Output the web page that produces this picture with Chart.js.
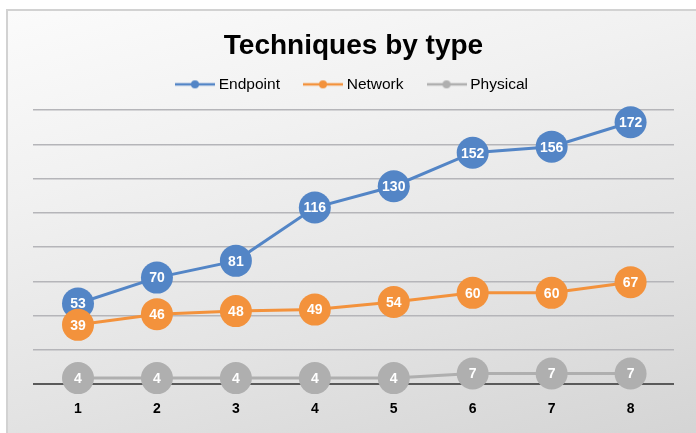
<!DOCTYPE html>
<html>
<head>
<meta charset="utf-8">
<script src="https://cdn.jsdelivr.net/npm/chart.js@4.4.1/dist/chart.umd.min.js"></script>
<style>
  html, body { margin: 0; padding: 0; background: #fff; }
  body { width: 696px; height: 433px; position: relative; overflow: hidden; }
  .card {
    position: absolute; left: 6px; top: 9px; width: 700px; height: 440px;
    border-left: 2px solid #d2d2d2; border-top: 2px solid #d2d2d2;
    background: linear-gradient(165deg, #fbfbfb 0%, #f1f1f1 30%, #e3e3e3 65%, #d3d3d3 100%);
  }
  #chart { position: absolute; left: 0; top: 0; }
</style>
</head>
<body>
<div class="card"></div>
<canvas id="chart" width="696" height="433"></canvas>
<script>
// data
const categories = [1, 2, 3, 4, 5, 6, 7, 8];
const endpoint = [53, 70, 81, 116, 130, 152, 156, 172];
const network = [39, 46, 48, 49, 54, 60, 60, 67];
const physical = [4, 4, 4, 4, 4, 7, 7, 7];
const seriesNames = ['Endpoint', 'Network', 'Physical'];
const seriesColors = ['#5385c6', '#f3923c', '#afafaf'];
const yMax = 180;
const yStep = 22.5;

const font = "'Liberation Sans', Arial, Helvetica, sans-serif";

// legend marker: a short line with a dot in the middle
function legendMarker(color) {
  const c = document.createElement('canvas');
  c.width = 40; c.height = 12;
  const g = c.getContext('2d');
  g.strokeStyle = color;
  g.lineWidth = 2.5;
  g.beginPath(); g.moveTo(0, 6); g.lineTo(40, 6); g.stroke();
  g.fillStyle = color;
  g.beginPath(); g.arc(20, 6, 4, 0, Math.PI * 2); g.fill();
  return c;
}

function toPoints(values) {
  return categories.map((c, i) => ({ x: c, y: values[i] }));
}

// white value text inside each point, drawn right after its dataset
const pointLabels = {
  id: 'pointLabels',
  afterDatasetDraw(chart, args) {
    const ctx = chart.ctx;
    const ds = chart.data.datasets[args.index];
    ctx.save();
    ctx.fillStyle = '#ffffff';
    ctx.font = 'bold 14px ' + font;
    ctx.textAlign = 'center';
    ctx.textBaseline = 'middle';
    args.meta.data.forEach((pt, i) => {
      ctx.fillText(String(ds.data[i].y), pt.x, pt.y + 1);
    });
    ctx.restore();
  }
};

// a bit more room between the legend and the plot
const legendGap = {
  id: 'legendGap',
  beforeInit(chart) {
    const fit = chart.legend.fit;
    chart.legend.fit = function () {
      fit.bind(chart.legend)();
      this.height += 8;
    };
  }
};

const datasets = [endpoint, network, physical].map((vals, i) => ({
  label: seriesNames[i],
  data: toPoints(vals),
  borderColor: seriesColors[i],
  backgroundColor: seriesColors[i],
  borderWidth: 3,
  pointRadius: 16,
  pointHoverRadius: 16,
  pointBorderWidth: 0,
  tension: 0,
  clip: false,
  order: [1, 0, 2][i]
}));

new Chart(document.getElementById('chart'), {
  type: 'line',
  data: { datasets: datasets },
  plugins: [pointLabels, legendGap],
  options: {
    responsive: false,
    animation: false,
    layout: { padding: { left: 33, right: 22, top: 0, bottom: -2 } },
    plugins: {
      title: {
        display: true,
        text: 'Techniques by type',
        color: '#000',
        font: { family: font, size: 28, weight: 'bold' },
        padding: { top: 29, bottom: -13 }
      },
      legend: {
        display: true,
        labels: {
          color: '#000',
          font: { family: font, size: 15.5 },
          usePointStyle: true,
          pointStyleWidth: 32,
          padding: 27,
          generateLabels(chart) {
            const items = Chart.defaults.plugins.legend.labels.generateLabels(chart);
            items.forEach((it) => { it.pointStyle = legendMarker(seriesColors[it.datasetIndex]); });
            return items.sort((a, b) => a.datasetIndex - b.datasetIndex);
          }
        }
      },
      tooltip: { enabled: false }
    },
    scales: {
      x: {
        type: 'linear',
        min: 0.43,
        max: 8.55,
        grid: { display: false, drawTicks: false },
        border: { display: false },
        afterBuildTicks(axis) { axis.ticks = categories.map((v) => ({ value: v })); },
        ticks: {
          color: '#000',
          padding: 17,
          font: { family: font, size: 14, weight: 'bold' },
          callback: (v) => String(v)
        }
      },
      y: {
        min: 0,
        max: yMax,
        grid: {
          drawTicks: false,
          color: (c) => (c.tick && c.tick.value === 0 ? '#5a5a5a' : '#b5b5b9'),
          lineWidth: (c) => (c.tick && c.tick.value === 0 ? 2 : 1.6)
        },
        border: { display: false },
        ticks: { display: false, stepSize: yStep }
      }
    }
  }
});
</script>
</body>
</html>
